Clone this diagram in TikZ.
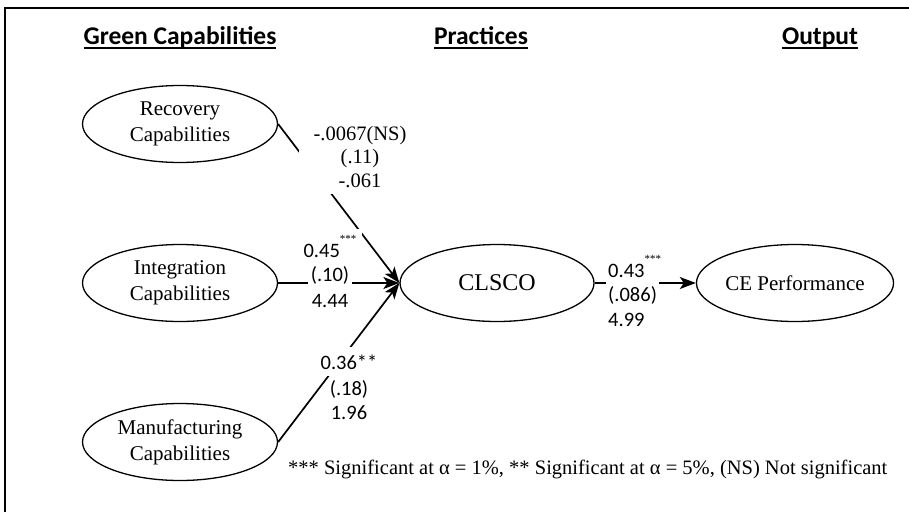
\documentclass[tikz,border=0pt]{standalone}
\usepackage{fontspec}
\setmainfont{Liberation Serif}
\newfontfamily\carl{Carlito}
\usetikzlibrary{shapes.geometric,arrows.meta}
\newcommand\hdul[1]{\setbox0\hbox{#1}\rlap{\rule[-4.5pt]{\wd0}{2.4pt}}\box0}
\newcommand\sups[1]{\raisebox{15pt}{\rmfamily\fontsize{11}{11}\selectfont #1}}
\begin{document}
\begin{tikzpicture}[x=1pt,y=-1pt,
  oval/.style={ellipse,draw,line width=1.3pt,minimum width=195pt,minimum height=77pt,inner sep=0pt,align=center,font=\fontsize{21}{26}\selectfont},
  hd/.style={font=\carl\bfseries\fontsize{25.5}{28}\selectfont,inner sep=0pt,anchor=base},
  conn/.style={line width=1.7pt,-{Stealth[length=16pt,width=12pt,inset=4pt]}},
  num/.style={font=\carl\fontsize{20.5}{24}\selectfont,inner sep=2pt,fill=white},
  serl/.style={font=\fontsize{20.5}{23.5}\selectfont,align=center,fill=white,inner xsep=15pt,inner ysep=6pt},
  note/.style={font=\fontsize{20.5}{24}\selectfont,inner sep=0pt,anchor=base west}
]
\useasboundingbox (0,0) rectangle (909,511);
\draw[line width=2.5pt] (5,530) -- (5,8) -- (930,8);

\node[hd] (h1) at (180,45) {\hdul{Green Capabilities}};
\node[hd] (h2) at (481,45) {\hdul{Practices}};
\node[hd] (h3) at (820,45) {\hdul{Output}};

\node[oval] (rec) at (180,124) {Recovery\\Capabilities};
\node[oval] (int) at (180,283) {Integration\\Capabilities};
\node[oval] (man) at (180,442) {Manufacturing\\Capabilities};
\node[oval,minimum width=194pt,font=\fontsize{24}{28}\selectfont] (cls) at (497,283) {CLSCO};
\node[oval,minimum width=196pt] (ce) at (795,283) {CE Performance};

\draw[conn] (rec.east) -- (cls.west);
\draw[conn] (int.east) -- (cls.west);
\draw[conn] (man.east) -- (cls.west);
\draw[conn] (cls.east) -- (ce.west);

% Recovery path labels
\node[serl] (rl) at (360,157) {-.0067(NS)\\(.11)\\-.061};

% Integration path labels
\node[num,anchor=base,inner sep=6pt] (i1) at (330,257) {0.45\sups{***}};
\node[num,inner xsep=3pt,inner ysep=2pt] (i2) at (330,275) {(.10)};
\node[num] (i3) at (330,301) {4.44};

% Manufacturing path labels
\node[num,anchor=base,inner sep=7pt] (m1) at (349,369) {0.36**};
\node[num,fill=none] (m2) at (349,389) {(.18)};
\node[num,fill=none] (m3) at (349,413) {1.96};

% CLSCO -> CE labels
\node[num,anchor=base west] (c1) at (606,277) {0.43\sups{***}};
\node[num,anchor=west,inner ysep=4pt] (c2) at (606,295) {(.086)};
\node[num,anchor=west] (c3) at (606,320) {4.99};

\node[note] (fn) at (288,474) {*** Significant at α = 1\%, ** Significant at α = 5\%, (NS) Not significant};
\end{tikzpicture}
\end{document}
